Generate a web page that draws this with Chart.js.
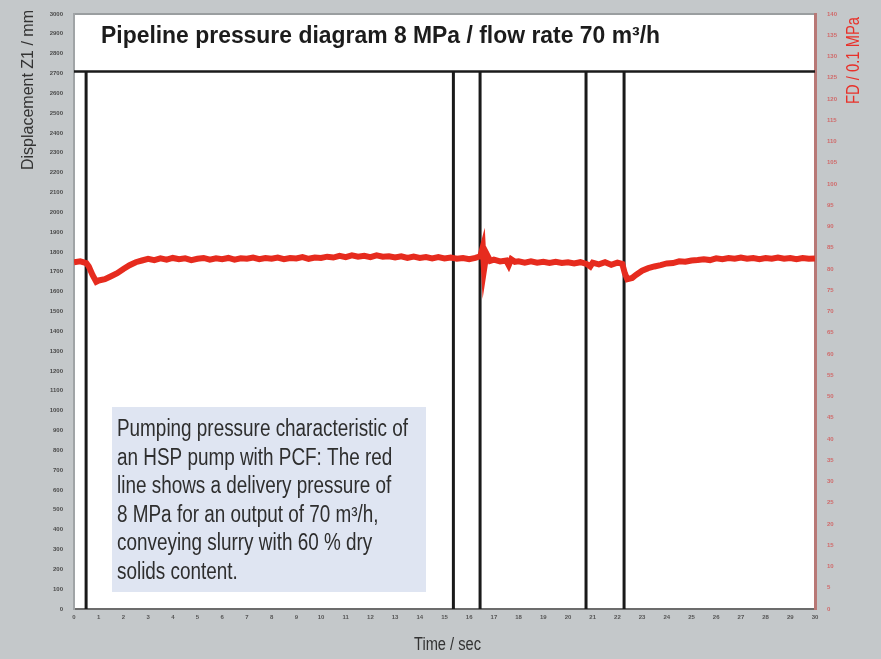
<!DOCTYPE html>
<html lang="en">
<head>
<meta charset="UTF-8">
<title>Pipeline pressure diagram</title>
<script src="https://cdn.jsdelivr.net/npm/chart.js@4"></script>
<style>
  html, body { margin: 0; padding: 0; background: #c4c8ca; }
  canvas { display: block; }
</style>
</head>
<body>
<canvas id="pressureChart" width="881" height="659"></canvas>
<script>
// time axis (sec) and delivery pressure FD (0.1 MPa)
const times = [
  0, 0.25, 0.5, 0.6, 0.75, 0.9, 1.0, 1.25, 1.5, 1.75, 2.0, 2.25, 2.5, 2.75,
  3.0, 3.25, 3.5, 3.75, 4.0, 4.25, 4.5, 4.75, 5.0, 5.25, 5.5, 5.75,
  6.0, 6.25, 6.5, 6.75, 7.0, 7.25, 7.5, 7.75, 8.0, 8.25, 8.5, 8.75,
  9.0, 9.25, 9.5, 9.75, 10.0, 10.25, 10.5, 10.75, 11.0, 11.25, 11.5, 11.75,
  12.0, 12.25, 12.5, 12.75, 13.0, 13.25, 13.5, 13.75, 14.0, 14.25, 14.5, 14.75,
  15.0, 15.25, 15.5, 15.75, 16.0, 16.25, 16.45, 16.55, 16.6, 16.7, 16.85,
  17.0, 17.25, 17.5, 17.6, 17.7, 17.85, 18.0, 18.25, 18.5, 18.75,
  19.0, 19.25, 19.5, 19.75, 20.0, 20.25, 20.5, 20.75, 20.9, 21.0, 21.25, 21.5, 21.75,
  22.0, 22.2, 22.3, 22.4, 22.6, 22.75, 23.0, 23.25, 23.5, 23.75,
  24.0, 24.25, 24.5, 24.75, 25.0, 25.25, 25.5, 25.75, 26.0, 26.25, 26.5, 26.75,
  27.0, 27.25, 27.5, 27.75, 28.0, 28.25, 28.5, 28.75, 29.0, 29.25, 29.5, 29.75, 30.0
];
const fdValues = [
  81.6, 81.8, 81.4, 80.6, 78.6, 77.0, 77.3, 77.6, 78.3, 79.0, 80.0, 80.9, 81.6, 82.0,
  82.4, 82.1, 82.5, 82.2, 82.6, 82.3, 82.5, 82.1, 82.4, 82.6, 82.2, 82.5,
  82.3, 82.6, 82.2, 82.5, 82.4, 82.7, 82.3, 82.6, 82.4, 82.7, 82.3, 82.6,
  82.5, 82.8, 82.4, 82.7, 82.6, 82.9, 82.7, 83.1, 82.8, 83.2, 82.9, 83.1,
  82.8, 83.2, 82.9, 83.0, 82.7, 83.0, 82.6, 82.9, 82.6, 82.8, 82.5, 82.8,
  82.5, 82.7, 82.4, 82.6, 82.3, 82.6, 83.0, 85.2, 79.8, 83.6, 81.9,
  82.2, 81.8, 82.0, 80.9, 82.3, 81.7, 81.8, 81.5, 81.8, 81.5,
  81.7, 81.4, 81.7, 81.4, 81.6, 81.3, 81.6, 81.2, 80.6, 81.5, 81.1, 81.6, 81.0,
  81.5, 81.2, 79.0, 77.6, 77.9, 78.6, 79.6, 80.2, 80.6, 80.9,
  81.3, 81.4, 81.8, 81.7, 82.0, 82.1, 82.3, 82.1, 82.5, 82.3, 82.6, 82.4,
  82.7, 82.4, 82.6, 82.3, 82.6, 82.4, 82.7, 82.4, 82.6, 82.3, 82.6, 82.4, 82.5
];

// black cycle markers (sec) and their top edge (displacement, mm)
const markerTimes = [0.49, 15.36, 16.44, 20.73, 22.27];
const markerTop = 2710;

const FONT = "'Liberation Sans Narrow', 'Liberation Sans', Arial, sans-serif";

const title = 'Pipeline pressure diagram 8 MPa / flow rate 70 m\u00b3/h';
const noteLines = [
  'Pumping pressure characteristic of',
  'an HSP pump with PCF: The red',
  'line shows a delivery pressure of',
  '8 MPa for an output of 70 m\u00b3/h,',
  'conveying slurry with 60 % dry',
  'solids content.'
];

// marker segments, broken by null points
const markerData = [];
markerTimes.forEach(t => {
  markerData.push({ x: t, y: 0 }, { x: t, y: markerTop }, { x: t, y: null });
});

// the original uses a condensed face; squeeze the text horizontally
function narrowText(ctx, text, x, y, sx) {
  ctx.save();
  ctx.translate(x, y);
  ctx.scale(sx, 1);
  ctx.fillText(text, 0, 0);
  ctx.restore();
}

function fitScale(ctx, text, width) {
  return width / ctx.measureText(text).width;
}

const paperPlugin = {
  id: 'paper',
  beforeDraw(chart) {
    const { ctx, chartArea: a } = chart;
    ctx.save();
    ctx.fillStyle = '#c4c8ca';
    ctx.fillRect(0, 0, chart.width, chart.height);
    ctx.fillStyle = '#ffffff';
    ctx.fillRect(a.left, a.top, a.right - a.left, a.bottom - a.top);
    ctx.strokeStyle = '#9a9ea0';
    ctx.lineWidth = 2;
    ctx.beginPath();
    ctx.moveTo(a.left, a.top);
    ctx.lineTo(a.right, a.top);
    ctx.stroke();

    // caption box
    ctx.fillStyle = '#dfe5f2';
    ctx.fillRect(112, 407, 314, 185);
    ctx.restore();
  },
  afterDraw(chart) {
    const { ctx } = chart;
    ctx.save();
    ctx.textBaseline = 'alphabetic';

    ctx.fillStyle = '#1c1c1c';
    ctx.font = 'bold 23px ' + FONT;
    narrowText(ctx, title, 101, 43, fitScale(ctx, title, 559));

    ctx.fillStyle = '#2e2e2e';
    ctx.font = '23px ' + FONT;
    const sNote = fitScale(ctx, noteLines[0], 291);
    noteLines.forEach((line, i) => narrowText(ctx, line, 117, 436 + i * 28.5, sNote));

    // axis titles
    ctx.font = '18px ' + FONT;
    ctx.fillStyle = '#333333';
    narrowText(ctx, 'Time / sec', 414, 650, fitScale(ctx, 'Time / sec', 67));

    ctx.font = '17px ' + FONT;
    ctx.save();
    ctx.translate(33, 170);
    ctx.rotate(-Math.PI / 2);
    narrowText(ctx, 'Displacement Z1 / mm', 0, 0, fitScale(ctx, 'Displacement Z1 / mm', 160));
    ctx.restore();

    ctx.font = '18px ' + FONT;
    ctx.save();
    ctx.fillStyle = '#e8312a';
    ctx.translate(859, 104);
    ctx.rotate(-Math.PI / 2);
    narrowText(ctx, 'FD / 0.1 MPa', 0, 0, fitScale(ctx, 'FD / 0.1 MPa', 87));
    ctx.restore();
    ctx.restore();
  }
};

new Chart(document.getElementById('pressureChart'), {
  type: 'line',
  data: {
    datasets: [
      {
        label: 'FD',
        data: times.map((t, i) => ({ x: t, y: fdValues[i] })),
        yAxisID: 'y1',
        borderColor: '#e62b1e',
        borderWidth: 6,
        pointRadius: 0,
        tension: 0,
        order: 1
      },
      {
        label: 'Markers',
        data: markerData,
        yAxisID: 'y',
        borderColor: '#1a1a1a',
        borderWidth: 3,
        pointRadius: 0,
        spanGaps: false,
        order: 2
      },
      {
        label: 'Top line',
        data: [{ x: 0, y: markerTop }, { x: 30, y: markerTop }],
        yAxisID: 'y',
        borderColor: '#1a1a1a',
        borderWidth: 2.5,
        pointRadius: 0,
        order: 2
      }
    ]
  },
  plugins: [paperPlugin],
  options: {
    responsive: false,
    animation: false,
    layout: { padding: { top: 14, left: 0, right: 0, bottom: 0 } },
    plugins: {
      legend: { display: false },
      tooltip: { enabled: false }
    },
    scales: {
      x: {
        type: 'linear',
        min: 0,
        max: 30,
        ticks: {
          stepSize: 1,
          autoSkip: false,
          maxRotation: 0,
          color: '#555',
          font: { size: 6, weight: 'bold', family: FONT },
          padding: 2,
          callback: v => String(v)
        },
        grid: { display: false, drawTicks: true, tickLength: 3, color: '#777' },
        border: { display: true, color: '#6c6c6c', width: 2 },
        afterFit(scale) { scale.height = 50; }
      },
      y: {
        position: 'left',
        min: 0,
        max: 3000,
        ticks: {
          stepSize: 100,
          autoSkip: false,
          color: '#4a4a4a',
          font: { size: 6, weight: 'bold', family: FONT },
          padding: 3,
          callback: v => String(v)
        },
        grid: { display: false },
        border: { display: true, color: '#a0a4a6', width: 2 },
        afterFit(scale) { scale.width = 74; }
      },
      y1: {
        position: 'right',
        min: 0,
        max: 140,
        ticks: {
          stepSize: 5,
          autoSkip: false,
          color: '#d06a6a',
          font: { size: 6, weight: 'bold', family: FONT },
          padding: 4,
          callback: v => String(v)
        },
        grid: { display: false },
        border: { display: true, color: '#b87876', width: 3 },
        afterFit(scale) { scale.width = 66; }
      }
    }
  }
});
</script>
</body>
</html>
